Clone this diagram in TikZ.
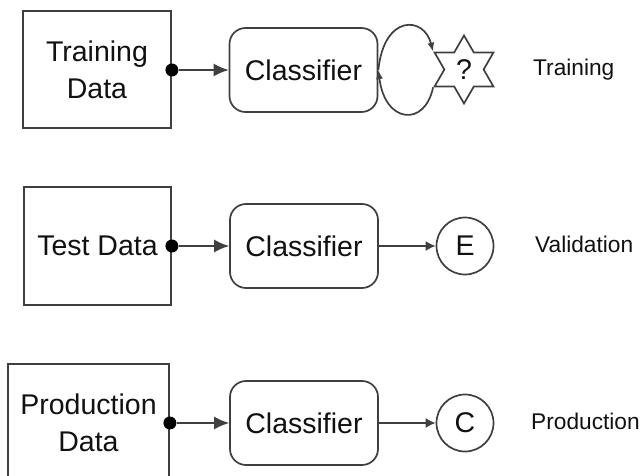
\documentclass[tikz,border=0pt]{standalone}
\usepackage{fontspec}
\setmainfont{Liberation Sans}
\usetikzlibrary{arrows.meta,shapes.geometric}
\definecolor{ln}{HTML}{3F3F3F}
\definecolor{tx}{HTML}{111111}
\begin{document}
\begin{tikzpicture}[x=1pt,y=-1pt,
  every node/.style={text=tx},
  bigfont/.style={font=\fontsize{28.5}{37}\selectfont},
  databox/.style={draw=ln,line width=1.8pt,inner sep=0pt,align=center,bigfont},
  clsbox/.style={draw=ln,line width=1.7pt,rounded corners=16pt,minimum width=148pt,minimum height=84pt,inner sep=0pt,bigfont},
  outcircle/.style={draw=ln,line width=1.7pt,circle,minimum size=57pt,inner sep=0pt,bigfont},
  qstar/.style={draw=ln,line width=1.7pt,star,star points=6,star point ratio=1.732,minimum size=68pt,inner sep=0pt,bigfont},
  stagelabel/.style={anchor=base west,inner sep=0pt,font=\fontsize{22.7}{27}\selectfont},
  joint/.style={circle,fill=black,minimum size=13pt,inner sep=0pt},
  bigarrow/.style={draw=ln,line width=1.7pt,-{Latex[length=15pt,width=13pt]}},
  smallarrow/.style={draw=ln,line width=1.7pt,-{Latex[length=10pt,width=10pt]}},
  looparrow/.style={draw=ln,line width=1.7pt,-{Latex[length=9pt,width=7pt]}},
]
\useasboundingbox[fill=white] (0,0) rectangle (640,476);

% data sources
\node[databox,minimum width=148pt,minimum height=117pt] (td1) at (97,69.5) {Training\\Data};
\node[databox,minimum width=147pt,minimum height=118pt] (td2) at (97.5,246) {Test Data};
\node[databox,minimum width=161pt,minimum height=118pt] (td3) at (88.5,423) {Production\\Data};

% classifiers
\node[clsbox] (c1) at (303.5,70) {Classifier};
\node[clsbox] (c2) at (304,246) {Classifier};
\node[clsbox] (c3) at (304,423) {Classifier};

% joints
\node[joint] (j1) at (td1.east |- c1.west) {};
\node[joint] (j2) at (td2.east |- c2.west) {};
\node[joint] (j3) at (td3.east |- c3.west) {};

\draw[bigarrow] (j1.east) -- (c1.west);
\draw[bigarrow] (j2.east) -- (c2.west);
\draw[bigarrow] (j3.east) -- (c3.west);

% outputs
\node[qstar] (q) at (464,69.5) {?};
\node[outcircle] (e) at (465,246) {E};
\node[outcircle] (cc) at (465,423) {C};

\draw[smallarrow] (c2.east) -- (e.west);
\draw[smallarrow] (c3.east) -- (cc.west);

% training loop
\draw[looparrow] (c1.east) .. controls (384,14) and (424,16) .. (q.outer point 2);
\draw[looparrow] (q.outer point 3) .. controls (425,127) and (385,124) .. (c1.east);

% stage labels
\node[stagelabel] (l1) at (533,76) {Training};
\node[stagelabel] (l2) at (535,252) {Validation};
\node[stagelabel] (l3) at (531,429) {Production};
\end{tikzpicture}
\end{document}
